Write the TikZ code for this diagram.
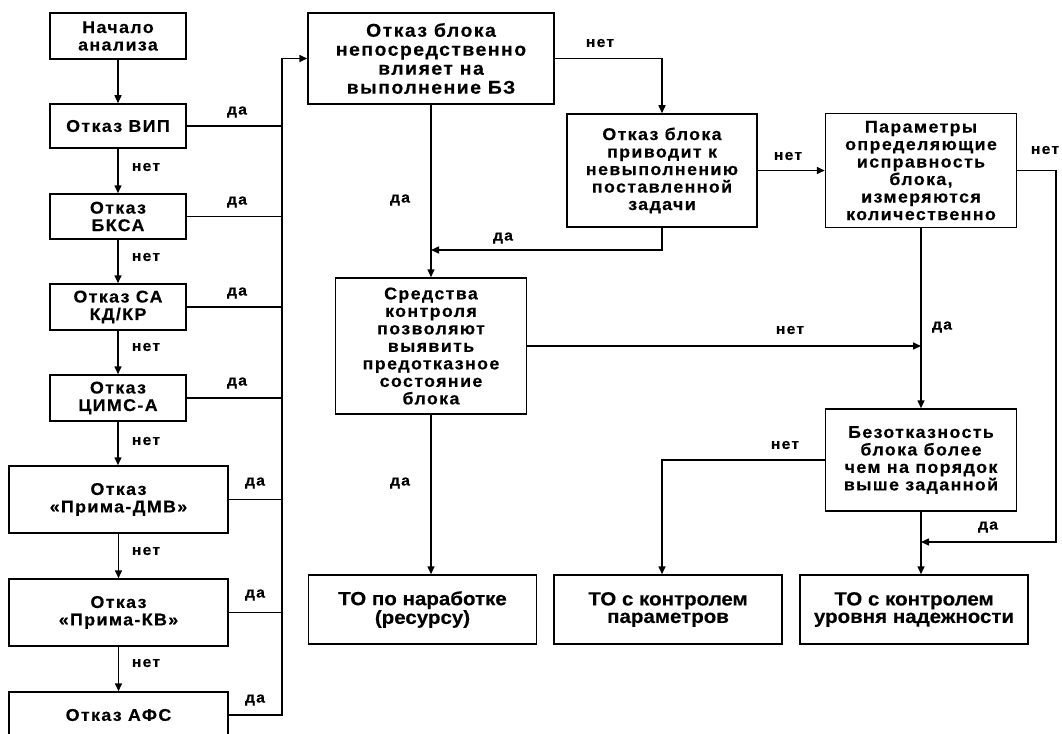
\documentclass[tikz,border=0pt]{standalone}
\usepackage{fontspec}
\setmainfont{Liberation Sans}[FakeStretch=1.05,LetterSpace=8,BoldFeatures={FakeBold=0.3}]
\newfontfamily\resfont{Liberation Sans}[FakeStretch=1.08,BoldFeatures={FakeBold=0.3}]
\usetikzlibrary{arrows.meta}

\begin{document}
\begin{tikzpicture}[x=1pt, y=-1pt, line width=1.5pt,
    blk/.style={draw, align=center, inner sep=0pt, font=\bfseries\fontsize{17}{17.5}\selectfont},
    res/.style={draw, align=center, inner sep=0pt, minimum width=228, minimum height=69,
      font=\resfont\bfseries\fontsize{19}{17.5}\selectfont},
    lbl/.style={inner sep=0pt, font=\bfseries\fontsize{15}{16}\selectfont},
    arr/.style={-{Triangle[length=8pt,width=7pt]}}]
    \useasboundingbox (0,0) rectangle (1062,733);

    % left column
    \node[blk, minimum width=136, minimum height=46] (start) at (118,36)    {Начало\\анализа};
    \node[blk, minimum width=136, minimum height=44] (vip)   at (118,126)   {Отказ ВИП};
    \node[blk, minimum width=136, minimum height=45] (bksa)  at (118,216.5) {Отказ\\БКСА};
    \node[blk, minimum width=136, minimum height=46] (sa)    at (118,307)   {Отказ СА\\КД/КР};
    \node[blk, minimum width=136, minimum height=46] (cims)  at (118,398)   {Отказ\\ЦИМС-А};
    \node[blk, minimum width=219, minimum height=67] (dmv)   at (118.5,499.5) {Отказ\\«Прима-ДМВ»};
    \node[blk, minimum width=219, minimum height=67] (kv)    at (118.5,612.5) {Отказ\\«Прима-КВ»};
    \node[blk, minimum width=219, minimum height=46] (afs)   at (118.5,715) {Отказ АФС};

    % decisions
    \node[blk, minimum width=246, minimum height=91, font=\bfseries\fontsize{18.5}{19}\selectfont]
      (direct) at (431,58.5) {Отказ блока\\непосредственно\\влияет на\\выполнение БЗ};
    \node[blk, minimum width=190, minimum height=113] (task)  at (662,170.5) {Отказ блока\\приводит к\\невыполнению\\поставленной\\задачи};
    \node[blk, minimum width=191, minimum height=114] (param) at (921,170.5) {Параметры\\определяющие\\исправность\\блока,\\измеряются\\количественно};
    \node[blk, minimum width=191, minimum height=136] (ctrl)  at (431,346)   {Средства\\контроля\\позволяют\\выявить\\предотказное\\состояние\\блока};
    \node[blk, minimum width=191, minimum height=102] (rel)   at (921,460)   {Безотказность\\блока более\\чем на порядок\\выше заданной};

    % results
    \node[res] (tores) at (422.5,609.5) {ТО по наработке\\(ресурсу)};
    \node[res] (topar) at (668,609.5)   {ТО с контролем\\параметров};
    \node[res] (torel) at (914,609.5)   {ТО с контролем\\уровня надежности};

    \coordinate (bus) at (282,58.5);
    \coordinate (j1) at (431,250);
    \coordinate (rt) at (1056,542);
    \coordinate (j3) at (921,542);

    \foreach \a/\b in {start/vip, vip/bksa, bksa/sa, sa/cims, cims/dmv, dmv/kv, kv/afs}
      \draw[arr] (\a.south) -- (\a.south |- \b.north);
    \foreach \b in {vip, bksa, sa, cims, dmv, kv}
      \draw (\b.east) -- (\b.east -| bus);
    \draw[arr] (afs.east) -| (bus) -- (direct.west);

    \draw[arr] (direct.east) -| (task.north);
    \draw[arr] (direct.south) -- (ctrl.north);
    \draw[arr] (task.south) |- (j1);
    \draw[arr] (task.east) -- (param.west);
    \draw[arr] (param.east) -| (rt) -- (j3);
    \draw[arr] (param.south) -- (rel.north);
    \draw[arr] (ctrl.east) -- (ctrl.east -| param.south);
    \draw[arr] (rel.south) -- (rel.south |- torel.north);
    \draw[arr] (rel.west) -| (task |- topar.north);
    \draw[arr] (ctrl.south) -- (ctrl.south |- tores.north);

    % labels
    \foreach \y in {112, 202, 293, 383} \node[lbl] at (237,\y) {да};
    \foreach \y in {483, 595, 700} \node[lbl] at (255,\y) {да};
    \foreach \y in {167, 257, 347, 441, 551, 663} \node[lbl] at (146,\y) {нет};
    \node[lbl] (l1) at (600,43)  {нет};
    \node[lbl] (l2) at (400,200) {да};
    \node[lbl] (l3) at (503,238) {да};
    \node[lbl] (l4) at (788,156) {нет};
    \node[lbl] (l5) at (1045,150) {нет};
    \node[lbl] (l6) at (790,330) {нет};
    \node[lbl] (l7) at (942,327) {да};
    \node[lbl] (l8) at (785,445) {нет};
    \node[lbl] (l9) at (988,527) {да};
    \node[lbl] (l10) at (400,483) {да};
  \end{tikzpicture}
\end{document}
